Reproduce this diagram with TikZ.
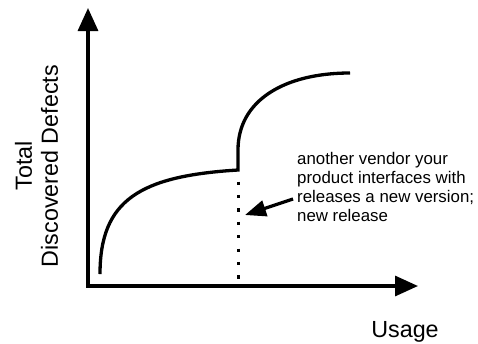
\documentclass[tikz,border=0pt]{standalone}
\usepackage{fontspec}
\setmainfont{Liberation Sans}
\usetikzlibrary{arrows.meta}
\begin{document}
\begin{tikzpicture}[x=1bp,y=-1bp,
  axis/.style={line width=3.2bp,line join=miter,-{Triangle[width=20bp,length=23bp]}},
  curve/.style={line width=3.3bp},
  dotline/.style={line width=3.3bp,dash pattern=on 3.3bp off 10.1bp},
  pointer/.style={line width=3.2bp,-{Triangle[width=16bp,length=21bp]}},
  note/.style={font=\fontsize{16.9}{19.1}\selectfont,align=left,inner sep=0pt,anchor=north west},
  axlabel/.style={font=\fontsize{23.4}{26.1}\selectfont,inner sep=0pt}]
\useasboundingbox (0,0) rectangle (478,343);
\coordinate (ytip) at (88,8);
\coordinate (origin) at (88,286);
\coordinate (xtip) at (418,286);
\draw[axis] (origin) -- (ytip);
\draw[axis] (86.4,286) -- (xtip);
\draw[curve] (100,274) .. controls (100,200) and (140,176) .. (238,170)
   -- (238,150) .. controls (238,100) and (285,73) .. (350,73);
\coordinate (dtop) at (238.5,181.5);
\coordinate (dbot) at (238.5,282);
\draw[dotline] (dtop) -- (dbot);
\node[note] (txt) at (297,152) {another vendor your\\product interfaces with\\releases a new version;\\new release};
\coordinate (pstart) at (293,199);
\coordinate (ptip) at (245,215);
\draw[pointer] (pstart) -- (ptip);
\node[axlabel,align=center,rotate=90] (ylab) at (36.6,166) {Total\\Discovered Defects};
\node[axlabel,anchor=base] (xlab) at (405,337) {Usage};
\end{tikzpicture}
\end{document}
